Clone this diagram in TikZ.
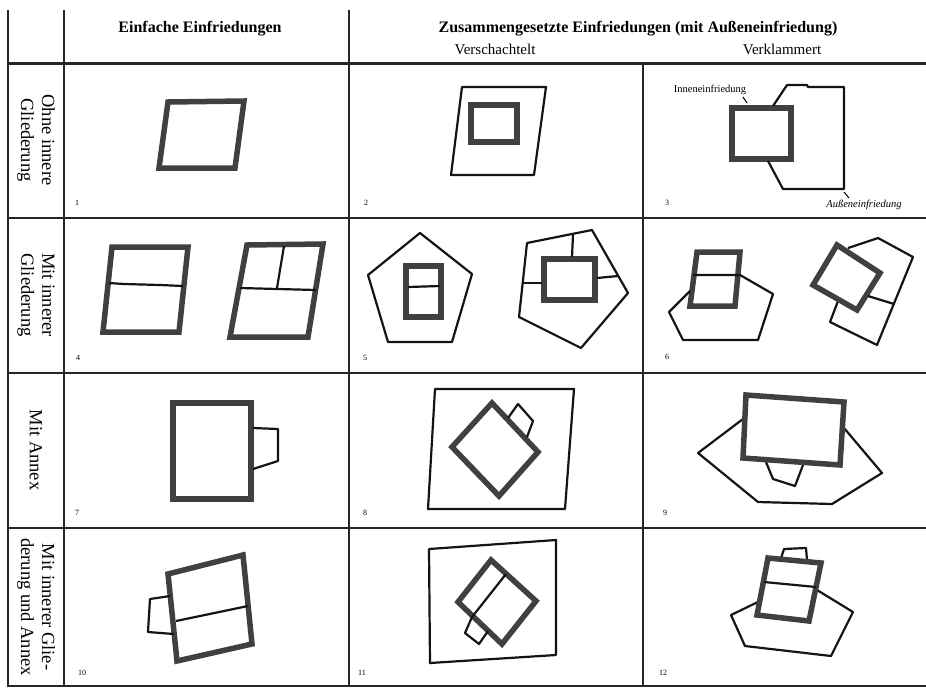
\documentclass[tikz,border=0pt]{standalone}
\usepackage{fontspec}
\setmainfont{Liberation Serif}
\usetikzlibrary{calc}
\tikzset{
  gridline/.style={line width=2.4pt, draw=black!85},
  thinl/.style={line width=2.2pt, draw=black!92, line join=round},
  thickl/.style={line width=5.5pt, draw=black!75, line join=miter},
  hdr/.style={font=\fontsize{16}{18}\selectfont\bfseries, inner sep=0pt},
  subhdr/.style={font=\fontsize{15}{17}\selectfont, inner sep=0pt},
  rowlbl/.style={font=\fontsize{18.5}{21}\selectfont, rotate=-90, align=center, inner sep=0pt},
  num/.style={font=\fontsize{8}{9}\selectfont, inner sep=0pt},
  tiny/.style={font=\fontsize{10.5}{11}\selectfont, inner sep=0pt}
}
\begin{document}
\begin{tikzpicture}[x=1pt,y=-1pt]
\useasboundingbox (0,0) rectangle (926,689);
\fill[white] (0,0) rectangle (926,689);
% grid
\draw[gridline] (8,10) -- (8,687);
\draw[gridline] (64,10) -- (64,687);
\draw[gridline] (349,10) -- (349,687);
\draw[gridline] (643,63) -- (643,687);
\draw[gridline, line width=3pt] (8,63) -- (926,63);
\draw[gridline] (8,218) -- (926,218);
\draw[gridline] (8,373) -- (926,373);
\draw[gridline] (8,528) -- (926,528);
\draw[gridline] (8,686) -- (926,686);
% headers
\node[hdr] (h1) at (200,29) {Einfache Einfriedungen};
\node[hdr] (h2) at (638,29) {Zusammengesetzte Einfriedungen (mit Außeneinfriedung)};
\node[subhdr] (h3) at (495,49) {Verschachtelt};
\node[subhdr] (h4) at (782,49) {Verklammert};
% row labels
\node[rowlbl] (r1) at (36,140) {Ohne innere\\Gliederung};
\node[rowlbl] (r2) at (36,295) {Mit innerer\\Gliederung};
\node[rowlbl] (r3) at (36,450) {Mit Annex};
\node[rowlbl] (r4) at (36,607) {Mit innerer Glie-\\derung und Annex};
% numbers
\node[num] (n1) at (77,203) {1};
\node[num] (n2) at (366,203) {2};
\node[num] (n3) at (667,203) {3};
\node[num] (n4) at (78,358) {4};
\node[num] (n5) at (365,358) {5};
\node[num] (n6) at (667,357) {6};
\node[num] (n7) at (77,513) {7};
\node[num] (n8) at (365,513) {8};
\node[num] (n9) at (665,513) {9};
\node[num] (n10) at (82,673) {10};
\node[num] (n11) at (362,673) {11};
\node[num] (n12) at (663,673) {12};
% cell 1
\draw[thickl] (168,102) -- (244,101) -- (235,168) -- (159,168) -- cycle;
% cell 2
\draw[thinl] (462,87) -- (546,87) -- (534,175) -- (451,175) -- cycle;
\draw[thickl] (471,105) rectangle (517,142);
% cell 3
\draw[thickl] (732,108) rectangle (791,159);
\draw[thinl] (773,106) -- (787,85) -- (807,85) -- (808,87) -- (844,87) -- (844,189) -- (783,189) -- (768,161);
\node[tiny] (t1) at (710,90) {Inneneinfriedung};
\draw[line width=1pt] (743,97) -- (747,103);
\node[tiny] (t2) at (864,205) {\itshape Außeneinfriedung};
\draw[line width=1pt] (844,192) -- (849,198);
% cell 4
\draw[thickl] (112,247) -- (188,247) -- (179,332) -- (103,332) -- cycle;
\draw[thinl] (109,283) -- (124,284) -- (160,285) -- (183,286);
\draw[thickl] (247,245) -- (323,244) -- (308,337) -- (230,337) -- cycle;
\draw[thinl] (240,288) -- (316,290);
\draw[thinl] (284,246) -- (277,288);
% cell 5
\draw[thinl] (420,233) -- (472,274) -- (452,342) -- (388,342) -- (368,275) -- cycle;
\draw[thickl] (406,266) rectangle (441,317);
\draw[thinl] (408,287) -- (440,286);
\draw[thinl] (527,243) -- (592,230) -- (628,293) -- (581,348) -- (519,317) -- cycle;
\draw[thickl] (544,259) rectangle (595,300);
\draw[thinl] (573,234) -- (572,257);
\draw[thinl] (523,283) -- (542,283);
\draw[thinl] (597,278) -- (618,276);
% cell 6
\draw[thickl] (697,252) -- (740,252) -- (735,306) -- (690,306) -- cycle;
\draw[thinl] (690,291) -- (669,312) -- (683,340) -- (758,340) -- (773,294) -- (740,275) -- (693,275);
\draw[thinl] (848,248) -- (878,238) -- (913,257) -- (877,345) -- (830,322) -- (838,301);
\draw[thickl] (837,245) -- (880,273) -- (857,310) -- (813,285) -- cycle;
\draw[thinl] (868,296) -- (894,304);
% cell 7
\draw[thickl] (173,403) rectangle (251,499);
\draw[thinl] (253,428) -- (278,429) -- (278,461) -- (253,469);
% cell 8
\draw[thinl] (435,389) -- (574,389) -- (565,509) -- (428,509) -- cycle;
\draw[thickl] (492,403) -- (538,452) -- (499,496) -- (452,447) -- cycle;
\draw[thinl] (508,418) -- (518,404) -- (533,421) -- (527,437);
% cell 9
\draw[thinl] (743,419) -- (698,453) -- (758,502) -- (832,504) -- (882,473) -- (844,428);
\draw[thinl] (766,462) -- (773,479) -- (795,486) -- (803,465);
\draw[thickl] (746,395) -- (844,402) -- (840,465) -- (743,458) -- cycle;
% cell 10
\draw[thickl] (168,574) -- (243,555) -- (252,644) -- (177,661) -- cycle;
\draw[thinl] (176,621) -- (248,606);
\draw[thinl] (170,596) -- (150,599) -- (148,632) -- (174,634);
% cell 11
\draw[thinl] (429,549) -- (556,540) -- (556,655) -- (430,663) -- cycle;
\draw[thickl] (491,560) -- (536,601) -- (502,644) -- (458,602) -- cycle;
\draw[thinl] (506,574) -- (472,617) -- (465,633) -- (479,644) -- (488,631);
% cell 12
\draw[thinl] (760,601) -- (731,615) -- (745,646) -- (831,656) -- (853,612) -- (817,590);
\draw[thinl] (781,558) -- (784,549) -- (806,548) -- (807,560);
\draw[thickl] (768,558) -- (821,563) -- (809,621) -- (757,615) -- cycle;
\draw[thinl] (764,582) -- (816,587);
\end{tikzpicture}
\end{document}
